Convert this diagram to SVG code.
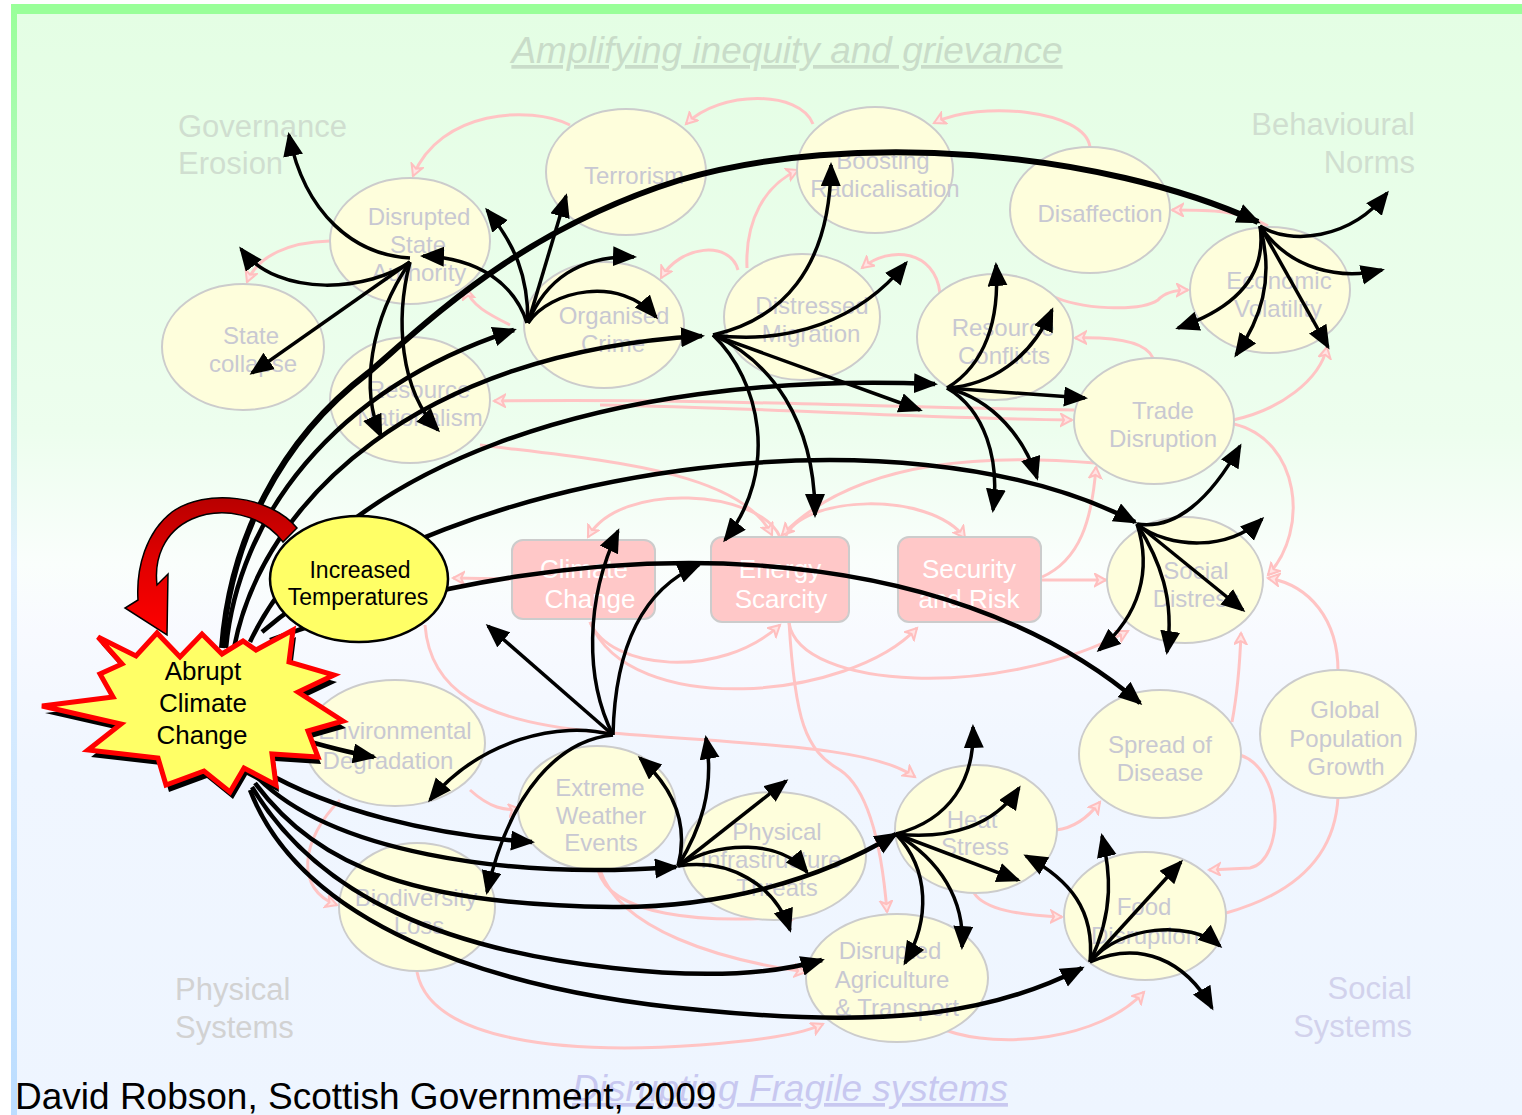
<svg xmlns="http://www.w3.org/2000/svg" width="1522" height="1115" viewBox="0 0 1522 1115">
<defs>
<linearGradient id="bg" x1="0" y1="0" x2="0" y2="1">
<stop offset="0" stop-color="#E4FEE4"/>
<stop offset="0.38" stop-color="#EDFEEE"/>
<stop offset="0.5" stop-color="#FAFEFC"/>
<stop offset="0.56" stop-color="#F8FAFF"/>
<stop offset="0.68" stop-color="#F0F6FF"/>
<stop offset="1" stop-color="#EEF5FF"/>
</linearGradient>
<linearGradient id="lb" x1="0" y1="0" x2="0" y2="1">
<stop offset="0" stop-color="#99FF99"/>
<stop offset="0.5" stop-color="#E0F0FF"/>
<stop offset="1" stop-color="#BBDDFF"/>
</linearGradient>
<linearGradient id="ra" x1="0" y1="0" x2="0" y2="1">
<stop offset="0" stop-color="#B80000"/>
<stop offset="0.45" stop-color="#E00000"/>
<stop offset="1" stop-color="#FF0000"/>
</linearGradient>
<marker id="ah" markerUnits="userSpaceOnUse" markerWidth="26" markerHeight="22" refX="21" refY="10" orient="auto">
<path d="M0,0 L24,10 L0,20 z" fill="#000"/>
</marker>
<marker id="pa" markerUnits="userSpaceOnUse" markerWidth="16" markerHeight="16" refX="12" refY="7" orient="auto">
<path d="M1,1 L12,7 L1,13 L4,7 z" fill="#FFE4E4" stroke="#FFBFBF" stroke-width="2" stroke-linejoin="miter"/>
</marker>
<style>
.pk{fill:none;stroke:#FFC4C4;stroke-width:3;marker-end:url(#pa)}
.pn{fill:none;stroke:#FFC4C4;stroke-width:3}
.bk{fill:none;stroke:#000;stroke-width:3.5;marker-end:url(#ah)}
.bt{fill:none;stroke:#000;stroke-width:4.5;marker-end:url(#ah)}
.bT{fill:none;stroke:#000;stroke-width:6;marker-end:url(#ah)}
.nd{fill:#FEFEDC;stroke:#CCCCCC;stroke-width:2}
.nt{font-family:"Liberation Sans",Arial,sans-serif;font-size:24px;fill:#C8C8D2;text-anchor:middle}
.bx{fill:#FFC8C8;stroke:#CCCCCC;stroke-width:2}
.bxt{font-family:"Liberation Sans",Arial,sans-serif;font-size:26px;fill:#FFFFFF;text-anchor:middle}
.rg{font-family:"Liberation Sans",Arial,sans-serif;font-size:31px}
.st{font-family:"Liberation Sans",Arial,sans-serif;fill:#000;text-anchor:middle}
</style>
<path id="starshape" d="M98,637 L136,656 L157,633 L180,657 L202,634 L222,654 L243,641 L256,650 L293,630 L289,662 L334,675 L298,692 L343,721 L308,731 L318,757 L272,754 L276,785 L244,768 L230,792 L204,771 L166,785 L158,758 L88,750 L121,724 L42,706 L113,697 L100,674 L122,664 Z"/>
</defs>

<rect x="0" y="0" width="1522" height="1115" fill="#FFFFFF"/>
<rect x="16" y="13" width="1506" height="1102" fill="url(#bg)"/>
<rect x="11" y="4" width="1511" height="10" fill="#99FF99"/>
<rect x="11" y="4" width="6" height="1111" fill="url(#lb)"/>

<g id="region-labels">
<text x="787" y="63" font-family="Liberation Sans, Arial, sans-serif" font-size="37" font-style="italic" text-decoration="underline" fill="#C9DCC9" text-anchor="middle">Amplifying inequity and grievance</text>
<text class="rg" x="178" y="137" fill="#D0DED0">Governance</text>
<text class="rg" x="178" y="174" fill="#D0DED0">Erosion</text>
<text class="rg" x="1415" y="135" fill="#D0DED0" text-anchor="end">Behavioural</text>
<text class="rg" x="1415" y="173" fill="#D0DED0" text-anchor="end">Norms</text>
<text class="rg" x="175" y="1000" fill="#D2D2D2">Physical</text>
<text class="rg" x="175" y="1038" fill="#D2D2D2">Systems</text>
<text class="rg" x="1412" y="999" fill="#D2D2EC" text-anchor="end">Social</text>
<text class="rg" x="1412" y="1037" fill="#D2D2EC" text-anchor="end">Systems</text>
<text x="790" y="1101" font-family="Liberation Sans, Arial, sans-serif" font-size="37" font-style="italic" text-decoration="underline" fill="#C8C8F0" text-anchor="middle">Disrupting Fragile systems</text>
</g>

<g id="influence-connectors">
<path class="pk" d="M570,125 C530,105 440,110 413,176"/>
<path class="pk" d="M813,124 C800,90 720,90 686,124"/>
<path class="pk" d="M1090,147 C1085,110 980,100 934,123"/>
<path class="pk" d="M738,270 C730,240 680,245 661,278"/>
<path class="pk" d="M747,268 C745,220 765,185 798,170"/>
<path class="pk" d="M940,293 C935,250 890,245 862,268"/>
<path class="pk" d="M1050,295 C1080,310 1140,312 1158,300 C1165,292 1175,290 1188,290"/>
<path class="pk" d="M1268,226 C1240,210 1210,210 1172,210"/>
<path class="pk" d="M1153,358 C1145,340 1110,337 1075,338"/>
<path class="pk" d="M1233,420 C1280,410 1320,380 1327,347"/>
<path class="pk" d="M330,241 C290,242 258,255 247,282"/>
<path class="pk" d="M510,325 C490,315 470,305 466,288"/>
<path class="pk" d="M1074,410 C900,408 700,398 494,401"/>
<path class="pk" d="M600,405 C780,408 900,418 1072,420"/>
<path class="pk" d="M480,445 C600,460 740,470 772,535"/>
<path class="pk" d="M1095,463 C1000,455 860,455 782,535"/>
<path class="pk" d="M785,538 C800,495 930,490 965,538"/>
<path class="pk" d="M780,537 C760,490 620,480 588,537"/>
<path class="pk" d="M512,579 L453,578"/>
<path class="pk" d="M590,622 C610,670 720,680 780,625"/>
<path class="pk" d="M590,622 C630,720 850,700 917,628"/>
<path class="pk" d="M789,623 C800,690 1000,700 1128,631"/>
<path class="pk" d="M789,622 C795,720 805,750 840,770 C870,790 882,850 887,912"/>
<path class="pk" d="M1042,580 L1106,580"/>
<path class="pk" d="M1042,577 C1080,560 1092,520 1096,467"/>
<path class="pk" d="M1232,722 C1238,690 1240,660 1241,633"/>
<path class="pk" d="M1338,671 C1338,620 1310,585 1268,578"/>
<path class="pk" d="M1234,424 C1300,440 1310,530 1268,575"/>
<path class="pk" d="M1240,755 C1285,770 1285,860 1250,868 L1209,870"/>
<path class="pn" d="M1338,797 C1335,860 1290,895 1226,913"/>
<path class="pk" d="M1056,830 C1075,828 1090,815 1100,802"/>
<path class="pk" d="M974,893 C985,910 1020,915 1062,917"/>
<path class="pk" d="M945,1030 C1000,1050 1100,1040 1144,992"/>
<path class="pk" d="M417,972 C430,1040 560,1055 700,1045 C760,1040 800,1035 823,1024"/>
<path class="pk" d="M598,870 C610,915 700,925 798,916"/>
<path class="pk" d="M600,870 C620,930 720,960 806,972"/>
<path class="pk" d="M425,625 C430,690 480,722 600,732 C750,745 870,745 915,777"/>
<path class="pk" d="M470,790 C490,808 505,811 520,809"/>
<path class="pk" d="M340,800 C300,840 295,890 337,905"/>
</g>

<g id="node-terrorism"><ellipse class="nd" cx="626" cy="172" rx="80" ry="63"/><text class="nt" x="634" y="184">Terrorism</text></g>
<g id="node-boosting-radicalisation"><ellipse class="nd" cx="875" cy="170" rx="78" ry="63"/><text class="nt" x="883" y="169">Boosting</text><text class="nt" x="885" y="197">Radicalisation</text></g>
<g id="node-disaffection"><ellipse class="nd" cx="1090" cy="210" rx="80" ry="63"/><text class="nt" x="1100" y="222">Disaffection</text></g>
<g id="node-economic-volatility"><ellipse class="nd" cx="1270" cy="290" rx="80" ry="63"/><text class="nt" x="1279" y="289">Economic</text><text class="nt" x="1278" y="317">Volatility</text></g>
<g id="node-disrupted-state-authority"><ellipse class="nd" cx="410" cy="241" rx="80" ry="63"/><text class="nt" x="419" y="225">Disrupted</text><text class="nt" x="418" y="253">State</text><text class="nt" x="419" y="281">Authority</text></g>
<g id="node-state-collapse"><ellipse class="nd" cx="243" cy="347" rx="81" ry="63"/><text class="nt" x="251" y="344">State</text><text class="nt" x="253" y="372">collapse</text></g>
<g id="node-organised-crime"><ellipse class="nd" cx="604" cy="325" rx="80" ry="63"/><text class="nt" x="614" y="324">Organised</text><text class="nt" x="613" y="352">Crime</text></g>
<g id="node-distressed-migration"><ellipse class="nd" cx="802" cy="317" rx="78" ry="63"/><text class="nt" x="812" y="314">Distressed</text><text class="nt" x="811" y="342">Migration</text></g>
<g id="node-resource-conflicts"><ellipse class="nd" cx="995" cy="337" rx="78" ry="63"/><text class="nt" x="1003" y="336">Resource</text><text class="nt" x="1004" y="364">Conflicts</text></g>
<g id="node-resource-nationalism"><ellipse class="nd" cx="410" cy="400" rx="80" ry="63"/><text class="nt" x="419" y="398">Resource</text><text class="nt" x="420" y="426">Nationalism</text></g>
<g id="node-trade-disruption"><ellipse class="nd" cx="1154" cy="421" rx="80" ry="63"/><text class="nt" x="1163" y="419">Trade</text><text class="nt" x="1163" y="447">Disruption</text></g>
<g id="node-social-distress"><ellipse class="nd" cx="1185" cy="580" rx="78" ry="63"/><text class="nt" x="1196" y="579">Social</text><text class="nt" x="1196" y="607">Distress</text></g>
<g id="node-environmental-degradation"><ellipse class="nd" cx="395" cy="743" rx="90" ry="63"/><text class="nt" x="395" y="739">Environmental</text><text class="nt" x="388" y="769">Degradation</text></g>
<g id="node-extreme-weather-events"><ellipse class="nd" cx="597" cy="808" rx="79" ry="62"/><text class="nt" x="600" y="796">Extreme</text><text class="nt" x="601" y="824">Weather</text><text class="nt" x="601" y="851">Events</text></g>
<g id="node-physical-infrastructure-threats"><ellipse class="nd" cx="774" cy="856" rx="92" ry="64"/><text class="nt" x="777" y="840">Physical</text><text class="nt" x="771" y="868">Infrastructure</text><text class="nt" x="777" y="896">Threats</text></g>
<g id="node-heat-stress"><ellipse class="nd" cx="976" cy="829" rx="81" ry="64"/><text class="nt" x="972" y="828">Heat</text><text class="nt" x="975" y="855">Stress</text></g>
<g id="node-spread-of-disease"><ellipse class="nd" cx="1160" cy="754" rx="81" ry="64"/><text class="nt" x="1160" y="753">Spread of</text><text class="nt" x="1160" y="781">Disease</text></g>
<g id="node-global-population-growth"><ellipse class="nd" cx="1338" cy="734" rx="78" ry="64"/><text class="nt" x="1345" y="718">Global</text><text class="nt" x="1346" y="747">Population</text><text class="nt" x="1346" y="775">Growth</text></g>
<g id="node-biodiversity-loss"><ellipse class="nd" cx="417" cy="907" rx="78" ry="64"/><text class="nt" x="416" y="906">Biodiversity</text><text class="nt" x="419" y="934">Loss</text></g>
<g id="node-disrupted-agriculture-transport"><ellipse class="nd" cx="897" cy="978" rx="91" ry="64"/><text class="nt" x="890" y="959">Disrupted</text><text class="nt" x="892" y="988">Agriculture</text><text class="nt" x="897" y="1016">&amp; Transport</text></g>
<g id="node-food-disruption"><ellipse class="nd" cx="1145" cy="916" rx="81" ry="64"/><text class="nt" x="1144" y="915">Food</text><text class="nt" x="1145" y="944">Disruption</text></g>

<g id="node-climate-change-box"><rect class="bx" x="512" y="540" width="143" height="79" rx="11"/><text class="bxt" x="584" y="578">Climate</text><text class="bxt" x="590" y="608">Change</text></g>
<g id="node-energy-scarcity"><rect class="bx" x="711" y="537" width="138" height="85" rx="11"/><text class="bxt" x="780" y="578">Energy</text><text class="bxt" x="781" y="608">Scarcity</text></g>
<g id="node-security-and-risk"><rect class="bx" x="898" y="537" width="143" height="85" rx="11"/><text class="bxt" x="969" y="578">Security</text><text class="bxt" x="969" y="608">and Risk</text></g>

<g id="impact-connectors">
<path class="bT" d="M222,648 C230,540 280,440 368,373 C430,320 520,230 680,180 C850,130 1100,150 1258,222"/>
<path class="bt" d="M226,648 C238,520 330,390 514,330"/>
<path class="bt" d="M234,648 C262,500 420,352 702,336"/>
<path class="bt" d="M250,642 C330,470 600,370 935,384"/>
<path class="bt" d="M262,632 C450,470 900,400 1135,522"/>
<path class="bt" d="M270,640 C600,520 950,540 1140,703"/>
<path class="bt" d="M290,736 C320,745 345,752 374,757"/>
<path class="bt" d="M262,770 C330,810 430,835 532,842"/>
<path class="bt" d="M258,778 C330,850 500,880 676,867"/>
<path class="bt" d="M255,783 C320,870 420,905 613,907 C720,908 820,880 896,834"/>
<path class="bt" d="M252,787 C320,900 450,950 613,968 C700,978 770,975 822,960"/>
<path class="bt" d="M250,790 C300,920 480,990 700,1010 C900,1030 1000,1010 1082,968"/>
<path class="bk" d="M410,258 C355,255 305,215 289,135"/>
<path class="bk" d="M410,262 C370,290 280,300 241,249"/>
<path class="bk" d="M410,262 L252,373"/>
<path class="bk" d="M410,262 C370,320 360,390 381,436"/>
<path class="bk" d="M410,262 C395,320 400,390 438,430"/>
<path class="bk" d="M527,323 C515,285 480,258 423,256"/>
<path class="bk" d="M528,323 C528,275 515,245 487,210"/>
<path class="bk" d="M528,323 L566,196"/>
<path class="bk" d="M528,323 C545,280 580,255 634,257"/>
<path class="bk" d="M528,323 C550,290 620,275 656,317"/>
<path class="bk" d="M713,335 C780,320 830,270 831,165"/>
<path class="bk" d="M713,335 C790,345 860,320 906,263"/>
<path class="bk" d="M713,335 L920,410"/>
<path class="bk" d="M713,335 C770,360 815,420 815,515"/>
<path class="bk" d="M713,335 C760,380 780,470 725,540"/>
<path class="bk" d="M947,388 C985,365 1000,320 996,265"/>
<path class="bk" d="M947,388 C990,385 1030,360 1052,310"/>
<path class="bk" d="M947,388 L1085,398"/>
<path class="bk" d="M947,388 C995,400 1025,440 1037,478"/>
<path class="bk" d="M947,388 C985,410 1000,460 993,510"/>
<path class="bk" d="M1137,524 C1175,530 1210,500 1240,446"/>
<path class="bk" d="M1137,524 C1170,550 1230,550 1262,519"/>
<path class="bk" d="M1137,524 L1243,610"/>
<path class="bk" d="M1137,524 C1160,560 1175,600 1167,652"/>
<path class="bk" d="M1137,524 C1152,570 1140,615 1099,650"/>
<path class="bk" d="M1260,226 C1290,245 1350,240 1387,193"/>
<path class="bk" d="M1260,226 C1290,270 1340,280 1382,270"/>
<path class="bk" d="M1260,226 L1328,347"/>
<path class="bk" d="M1260,226 C1275,280 1260,320 1236,355"/>
<path class="bk" d="M1260,226 C1268,280 1230,310 1178,328"/>
<path class="bk" d="M613,735 L488,626"/>
<path class="bk" d="M613,735 C585,680 585,600 618,531"/>
<path class="bk" d="M613,735 C615,650 640,590 699,565"/>
<path class="bk" d="M613,735 C560,720 480,740 430,800"/>
<path class="bk" d="M613,735 C560,740 510,790 487,892"/>
<path class="bk" d="M678,866 C690,820 670,785 640,758"/>
<path class="bk" d="M678,866 C700,830 715,790 706,738"/>
<path class="bk" d="M678,866 L786,781"/>
<path class="bk" d="M678,866 C720,840 780,840 807,872"/>
<path class="bk" d="M678,866 C730,858 775,885 790,930"/>
<path class="bk" d="M896,834 C950,820 975,780 973,727"/>
<path class="bk" d="M896,834 C950,840 995,825 1019,788"/>
<path class="bk" d="M896,834 L1018,880"/>
<path class="bk" d="M896,834 C940,860 965,900 962,947"/>
<path class="bk" d="M896,834 C930,870 930,920 905,963"/>
<path class="bk" d="M1090,962 C1095,910 1070,880 1026,856"/>
<path class="bk" d="M1090,962 C1115,910 1110,870 1102,836"/>
<path class="bk" d="M1090,962 L1181,862"/>
<path class="bk" d="M1090,962 C1120,925 1190,920 1220,946"/>
<path class="bk" d="M1090,962 C1140,940 1185,960 1212,1008"/>
</g>

<g id="node-increased-temperatures">
<ellipse cx="359" cy="579" rx="89" ry="63" fill="#FFFF66" stroke="#000" stroke-width="2.5"/>
<text class="st" x="360" y="578" font-size="23">Increased</text>
<text class="st" x="358" y="605" font-size="23">Temperatures</text>
</g>

<g id="node-abrupt-climate-change">
<use href="#starshape" transform="translate(3,7)" fill="#000"/>
<use href="#starshape" fill="#FFFF66" stroke="#FF0000" stroke-width="5" stroke-linejoin="miter"/>
<text class="st" x="203" y="680" font-size="26">Abrupt</text>
<text class="st" x="203" y="712" font-size="26">Climate</text>
<text class="st" x="202" y="744" font-size="26">Change</text>
</g>

<g id="feedback-arrow">
<path fill="url(#ra)" stroke="#000" stroke-width="1.5" stroke-linejoin="miter" d="M297,528 C270,495 205,488 172,512 C146,532 136,568 138,600 L125,608 L167,635 L168,574 L157,585 C154,560 163,532 192,519 C222,506 262,514 283,542 Z"/>
</g>

<text x="15" y="1109" font-family="Liberation Sans, Arial, sans-serif" font-size="37" fill="#000">David Robson, Scottish Government, 2009</text>
</svg>
